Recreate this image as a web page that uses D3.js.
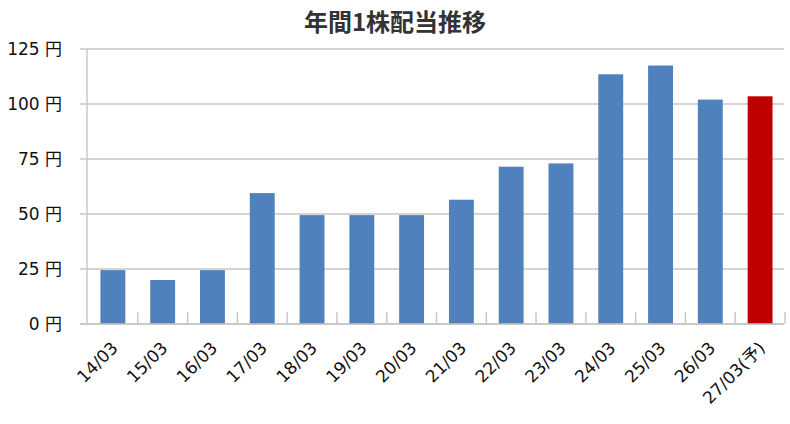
<!DOCTYPE html>
<html>
<head>
<meta charset="utf-8">
<script src="https://cdn.jsdelivr.net/npm/d3@7"></script>
<style>
  body { margin: 0; background: #fff; }
  text { font-family: "DejaVu Sans", "Noto Sans CJK JP", sans-serif; fill: #111; }
</style>
</head>
<body>
<div id="chart"></div>
<script>
// data
var periods = ['14/03', '15/03', '16/03', '17/03', '18/03', '19/03', '20/03',
               '21/03', '22/03', '23/03', '24/03', '25/03', '26/03', '27/03(予)'];
var dividends = [24.5, 20, 24.5, 59.5, 49.5, 49.5, 49.5, 56.5, 71.5, 73, 113.5, 117.5, 102, 103.5];
var forecast = [false, false, false, false, false, false, false, false, false, false, false, false, false, true];
var yTicks = [0, 25, 50, 75, 100, 125];
var title = '年間1株配当推移';

var width = 790, height = 424;
var plotLeft = 87, plotRight = 785, plotTop = 49, plotBottom = 324;

var svg = d3.select('#chart')
    .append('svg')
    .attr('width', width)
    .attr('height', height);

var x = d3.scaleBand()
    .domain(periods)
    .range([plotLeft + 1, plotRight])
    .paddingInner(0.5)
    .paddingOuter(0.25);

var y = d3.scaleLinear()
    .domain([0, 125])
    .range([plotBottom, plotTop]);

var gridColor = '#c6c6c6';

// gridlines + y tick marks
svg.append('g')
    .selectAll('line')
    .data(yTicks)
    .enter()
    .append('line')
    .attr('x1', plotLeft - 7)
    .attr('x2', plotRight - 1)
    .attr('y1', d => y(d))
    .attr('y2', d => y(d))
    .attr('stroke', gridColor)
    .attr('stroke-width', 1.4);

// y labels
svg.append('g')
    .selectAll('text')
    .data(yTicks)
    .enter()
    .append('text')
    .attr('x', 62)
    .attr('y', d => y(d))
    .attr('dy', '0.36em')
    .attr('text-anchor', 'end')
    .style('font-size', '17px')
    .text(d => d + ' 円');

// axes lines
svg.append('line')
    .attr('x1', plotLeft).attr('x2', plotLeft)
    .attr('y1', plotTop).attr('y2', plotBottom)
    .attr('stroke', gridColor)
    .attr('stroke-width', 1.4);

// category tick marks (inside, at boundaries)
var step = x.step();
var bounds = d3.range(periods.length + 1).map(i => x(periods[0]) - step / 4 + i * step);
svg.append('g')
    .selectAll('line')
    .data(bounds.slice(1))
    .enter()
    .append('line')
    .attr('x1', d => d).attr('x2', d => d)
    .attr('y1', plotBottom - 12).attr('y2', plotBottom)
    .attr('stroke', gridColor)
    .attr('stroke-width', 1.4);

// bars
svg.append('g')
    .selectAll('rect')
    .data(periods)
    .enter()
    .append('rect')
    .attr('x', d => x(d))
    .attr('width', x.bandwidth())
    .attr('y', (d, i) => y(dividends[i]))
    .attr('height', (d, i) => y(0) - y(dividends[i]))
    .attr('fill', (d, i) => forecast[i] ? '#c00000' : '#4f81bd');

svg.append('line')
    .attr('x1', plotLeft - 7).attr('x2', plotRight - 1)
    .attr('y1', plotBottom).attr('y2', plotBottom)
    .attr('stroke', gridColor)
    .attr('stroke-width', 1.6);

// x labels, rotated
svg.append('g')
    .selectAll('text')
    .data(periods)
    .enter()
    .append('text')
    .attr('text-anchor', 'end')
    .attr('transform', d => 'translate(' + (x(d) + x.bandwidth() / 2 + 6) + ',' + 349 + ') rotate(-45)')
    .style('font-size', '17px')
    .text(d => d);

// title
svg.append('text')
    .attr('x', width / 2)
    .attr('y', 31)
    .attr('text-anchor', 'middle')
    .style('font-family', '"Noto Sans CJK JP", sans-serif')
    .style('font-size', '24px')
    .style('font-weight', 'bold')
    .style('fill', '#333')
    .text(title);
</script>
</body>
</html>
